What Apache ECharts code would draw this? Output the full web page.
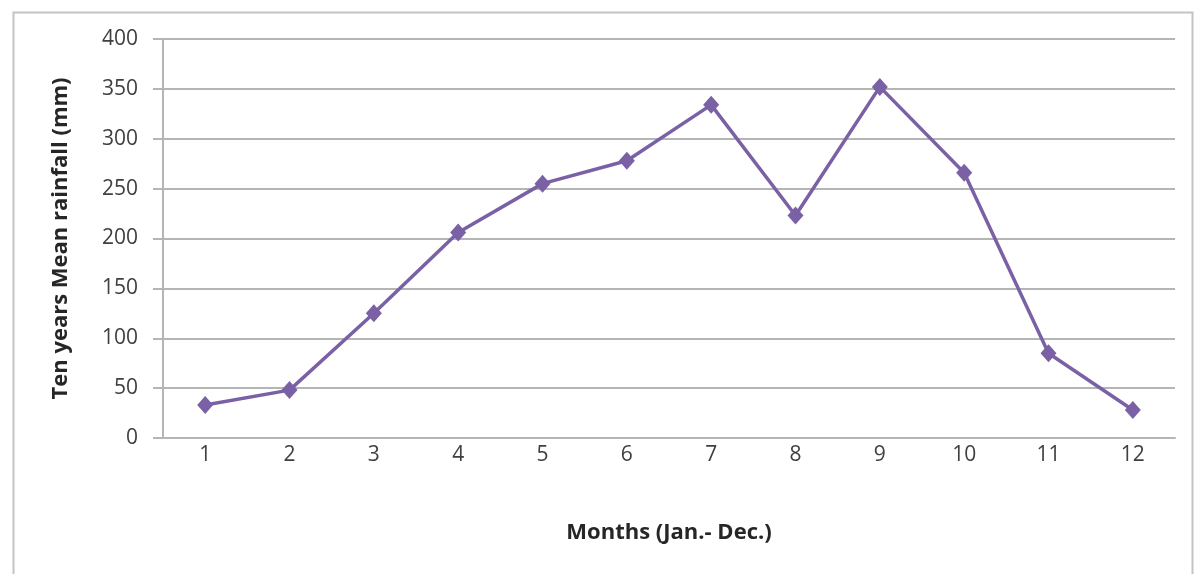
<!DOCTYPE html>
<html>
<head>
<meta charset="utf-8">
<script src="https://cdn.jsdelivr.net/npm/echarts@6/dist/echarts.min.js"></script>
<style>
  html, body { margin: 0; padding: 0; background: #ffffff; }
  #chart { width: 1203px; height: 574px; }
</style>
</head>
<body>
<div id="chart"></div>
<script>
// Monthly mean rainfall averaged over ten years
const months = ['1', '2', '3', '4', '5', '6', '7', '8', '9', '10', '11', '12'];
const rainfall = [33, 48, 125, 206, 255, 278, 334, 223, 352, 266, 85, 28];
const yTicks = { min: 0, max: 400, interval: 50 };

const chart = echarts.init(document.getElementById('chart'));
const font = '"Open Sans", "Noto Sans", sans-serif';

chart.setOption({
  backgroundColor: '#ffffff',
  animation: false,
  graphic: [{
    type: 'rect',
    left: 11, top: 10,
    shape: { width: 1179, height: 600 },
    style: { fill: 'none', stroke: '#c4c4c4', lineWidth: 2 },
    silent: true
  }],
  grid: { left: 163, right: 28, top: 39, bottom: 136 },
  xAxis: {
    type: 'category',
    data: months,
    boundaryGap: true,
    name: 'Months (Jan.- Dec.)',
    nameLocation: 'middle',
    nameGap: 84,
    nameTextStyle: { fontFamily: font, fontSize: 22, fontWeight: 'bold', color: '#262626' },
    axisLine: { lineStyle: { color: '#b5b5b5', width: 2 } },
    axisTick: { show: false },
    axisLabel: { margin: 7, fontFamily: font, fontSize: 21, color: '#404040' },
    splitLine: { show: false }
  },
  yAxis: {
    type: 'value',
    min: yTicks.min,
    max: yTicks.max,
    interval: yTicks.interval,
    name: 'Ten years Mean rainfall (mm)',
    nameLocation: 'middle',
    nameGap: 91,
    nameRotate: 90,
    nameTextStyle: { fontFamily: font, fontSize: 22, fontWeight: 'bold', color: '#262626' },
    axisLine: { show: true, lineStyle: { color: '#b5b5b5', width: 2 } },
    axisTick: { show: true, length: 10, lineStyle: { color: '#b5b5b5', width: 2 } },
    axisLabel: { margin: 25, fontFamily: font, fontSize: 21, color: '#404040' },
    splitLine: { show: true, lineStyle: { color: '#b5b5b5', width: 2 } }
  },
  series: [{
    type: 'line',
    data: rainfall,
    symbol: 'diamond',
    symbolSize: [16, 18],
    lineStyle: { color: '#7a61a5', width: 3.5 },
    itemStyle: { color: '#7a61a5' }
  }]
});
</script>
</body>
</html>
